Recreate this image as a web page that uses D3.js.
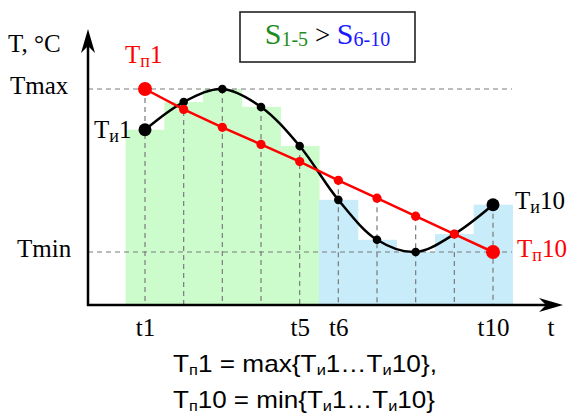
<!DOCTYPE html>
<html><head><meta charset="utf-8">
<script src="https://cdn.jsdelivr.net/npm/d3@7"></script>
<style>body{margin:0;background:#fff} svg{display:block}</style>
</head><body>
<script>
const steps = [1,2,3,4,5,6,7,8,9,10];
const tickValues = [1,5,6,10];
const tickLabels = ["t1","t5","t6","t10"];
const measuredT = [25.0, 28.4, 30.0, 27.8, 23.0, 16.4, 11.5, 10.0, 12.2, 15.8];   // Tи
const predictedT = [30.0, 27.5, 25.3, 23.2, 21.1, 18.8, 16.6, 14.4, 12.2, 10.0];  // Tп
const groups = ["a","a","a","a","a","b","b","b","b","b"];
const Tmax = 30, Tmin = 10, Tbottom = 3.5;

const W = 569, H = 419;
const serif = "Liberation Serif";
const sans = "Liberation Sans";
const svg = d3.select("body").append("svg").attr("width", W).attr("height", H);

const x = d3.scaleLinear().domain([1, 10]).range([145, 493]);
const y = d3.scaleLinear().domain([Tmin, Tmax]).range([252, 89]);
const axisX = 88, axisY = y(Tbottom);
const step = x(2) - x(1);
const data = steps.map((s, i) => ({s, m: measuredT[i], p: predictedT[i], g: groups[i]}));

// bars
svg.append("g").selectAll("rect").data(data).join("rect")
  .attr("x", d => x(d.s) - step / 2)
  .attr("width", step + 0.6)
  .attr("y", d => y(d.m))
  .attr("height", d => axisY - y(d.m))
  .attr("fill", d => d.g === "a" ? "#ccfccc" : "#c8ecfa");

// dashed guides
const dash = svg.append("g").attr("stroke", "#7a7a7a").attr("stroke-width", 1.2).attr("stroke-dasharray", "5,4").attr("fill", "none");
[Tmax, Tmin].forEach(v => dash.append("line").attr("x1", axisX).attr("x2", 512).attr("y1", y(v)).attr("y2", y(v)));
dash.selectAll("line.v").data(data).join("line").attr("class", "v")
  .attr("x1", d => x(d.s)).attr("x2", d => x(d.s))
  .attr("y1", d => Math.min(y(d.m), y(d.p))).attr("y2", axisY);

// axes
const ax = svg.append("g");
ax.append("line").attr("x1", axisX).attr("x2", axisX).attr("y1", axisY + 1).attr("y2", 40).attr("stroke", "#000").attr("stroke-width", 2.5);
ax.append("line").attr("x1", axisX - 1).attr("x2", 552).attr("y1", axisY).attr("y2", axisY).attr("stroke", "#000").attr("stroke-width", 2.5);
ax.append("path").attr("d", `M${axisX},29 L${axisX + 7},53 L${axisX},46 L${axisX - 7},53 Z`).attr("fill", "#000");
ax.append("path").attr("d", `M563,${axisY} L539,${axisY - 7} L546,${axisY} L539,${axisY + 7} Z`).attr("fill", "#000");

const xAxis = d3.axisBottom(x).tickValues(tickValues).tickFormat((d, i) => tickLabels[i]).tickSize(0).tickPadding(0);
const gx = svg.append("g").attr("transform", `translate(0,${axisY})`).call(xAxis);
gx.select(".domain").remove();
gx.attr("font-family", null).attr("font-size", null);
gx.selectAll("text").style("font-family", serif).style("font-size", "25px").attr("fill", "#000").attr("dy", null).attr("y", 31);

// lines
const curve = d3.line().x(d => x(d.s)).y(d => y(d.m)).curve(d3.curveCatmullRom.alpha(0.5));
svg.append("path").attr("d", curve(data)).attr("fill", "none").attr("stroke", "#000").attr("stroke-width", 2.5);
const straight = d3.line().x(d => x(d.s)).y(d => y(d.p));
svg.append("path").attr("d", straight(data)).attr("fill", "none").attr("stroke", "#ff0000").attr("stroke-width", 2.5);

// dots
svg.append("g").selectAll("circle").data(data).join("circle")
  .attr("cx", d => x(d.s)).attr("cy", d => y(d.m))
  .attr("r", (d, i) => (i === 0 || i === 9) ? 6.5 : 4.3).attr("fill", "#000");
svg.append("g").selectAll("circle").data(data).join("circle")
  .attr("cx", d => x(d.s)).attr("cy", d => y(d.p))
  .attr("r", (d, i) => (i === 0 || i === 9) ? 7 : 4.6).attr("fill", "#ff0000");

// labels
function txt(px, py, s) {
  return svg.append("text").attr("x", px).attr("y", py).style("font-family", serif).style("font-size", "25px").attr("fill", "#000").text(s);
}
function sublabel(px, py, main, sub, tail, color) {
  const t = svg.append("text").attr("x", px).attr("y", py).style("font-family", serif).style("font-size", "25px").attr("fill", color);
  t.append("tspan").text(main);
  t.append("tspan").style("font-size", "18px").attr("dy", 4).text(sub);
  t.append("tspan").attr("dy", -4).text(tail);
  return t;
}
txt(8, 52, "T, °C");
txt(10, 94, "Tmax");
txt(17, 257, "Tmin");
txt(551, axisY + 31, "t").attr("text-anchor", "middle");

sublabel(125, 63, "T", "п", "1", "#ff0000");
sublabel(94, 138, "T", "и", "1", "#000");
sublabel(515, 209, "T", "и", "10", "#000");
sublabel(517, 257, "T", "п", "10", "#ff0000");

// box
svg.append("rect").attr("x", 240).attr("y", 12).attr("width", 175).attr("height", 50).attr("fill", "#fff").attr("stroke", "#222").attr("stroke-width", 1.6);
const bt = svg.append("text").attr("x", 327.5).attr("y", 44).attr("text-anchor", "middle").style("font-family", serif).style("font-size", "30px");
bt.append("tspan").attr("fill", "#1e8c1e").text("S");
bt.append("tspan").attr("fill", "#1e8c1e").style("font-size", "20px").attr("dy", 2).text("1-5");
bt.append("tspan").attr("fill", "#000").style("font-size", "27px").attr("dy", -2).text(" > ");
bt.append("tspan").attr("fill", "#1a1aff").text("S");
bt.append("tspan").attr("fill", "#1a1aff").style("font-size", "20px").attr("dy", 2).text("6-10");

// formula
function formula(py, parts, len) {
  const t = svg.append("text").attr("x", 173).attr("y", py).style("font-family", sans).style("font-size", "24px").attr("fill", "#000")
    .attr("textLength", len).attr("lengthAdjust", "spacingAndGlyphs");
  let prevSub = false;
  parts.forEach(([s, sub]) => {
    t.append("tspan").style("font-size", sub ? "15px" : "24px").attr("dy", sub ? 3 : (prevSub ? -3 : 0)).text(s);
    prevSub = !!sub;
  });
}
formula(372, [["T",0],["п",1],["1 = max{T",0],["и",1],["1…T",0],["и",1],["10},",0]], 264);
formula(408, [["T",0],["п",1],["10 = min{T",0],["и",1],["1…T",0],["и",1],["10}",0]], 262);
</script>
</body></html>
